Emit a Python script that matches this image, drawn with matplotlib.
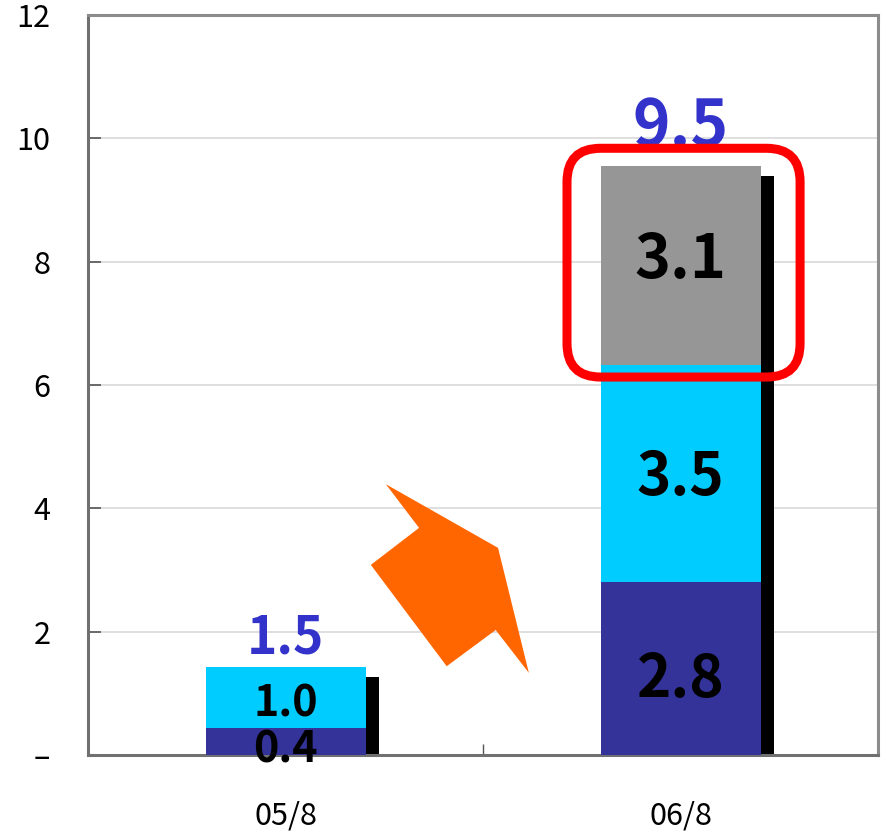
import matplotlib.pyplot as plt
from matplotlib.patches import FancyBboxPatch, Polygon

# --- data ---
periods = ['05/8', '06/8']
dark_vals = [0.44, 2.80]     # bottom segment (navy)
cyan_vals = [0.99, 3.52]     # middle segment (cyan)
grey_vals = [0.00, 3.23]     # top segment (grey, only in 06/8)
dark_labels = ['0.4', '2.8']
cyan_labels = ['1.0', '3.5']
grey_labels = ['', '3.1']
total_labels = ['1.5', '9.5']
y_ticks = [0, 2, 4, 6, 8, 10, 12]
y_tick_labels = ['\u2013', '2', '4', '6', '8', '10', '12']

# decorative orange arrow, in axes fraction
arrow_shape = [(0.377, 0.366), (0.419, 0.307), (0.358, 0.257), (0.454, 0.120),
               (0.516, 0.169), (0.558, 0.111), (0.519, 0.280)]

FONT = ['Noto Sans CJK JP', 'DejaVu Sans']
plt.rcParams['font.family'] = FONT

fig = plt.figure(figsize=(8.86, 8.38), dpi=100)
ax = fig.add_axes([0.0993, 0.099, 0.8918, 0.883])

px_per_unit = 0.883 * 838 / 12.0


def digit_half(fs):
    # half the height of a digit, in data units, for a font size in points
    return 0.5 * 0.73 * fs * 100 / 72 / px_per_unit


def put(xpos, ycenter, s, fs, color='black'):
    ax.text(xpos, ycenter - digit_half(fs), s, ha='center', va='baseline',
            fontsize=fs, fontweight='bold', color=color, zorder=5)


x = list(range(len(periods)))
width = 0.405
dx, dy = 0.033, 0.16

totals = [d + c + g for d, c, g in zip(dark_vals, cyan_vals, grey_vals)]
tops2 = [d + c for d, c in zip(dark_vals, cyan_vals)]

# black drop shadow behind the stacks
ax.bar([i + dx for i in x], [t - dy for t in totals], width=width,
       color='black', zorder=2)

ax.bar(x, dark_vals, width=width, color='#333399', zorder=3)
ax.bar(x, cyan_vals, width=width, bottom=dark_vals, color='#00CCFF', zorder=3)
ax.bar(x, grey_vals, width=width, bottom=tops2, color='#969696', zorder=3)

# segment labels
for i in x:
    small = totals[i] < 3
    fs_seg = 31 if small else 42
    put(i, dark_vals[i] / 2 - (0.09 if small else 0.12), dark_labels[i], fs_seg)
    put(i, dark_vals[i] + cyan_vals[i] / 2 - (0.05 if small else 0), cyan_labels[i], fs_seg)
    if grey_labels[i]:
        put(i, tops2[i] + grey_vals[i] / 2 + 0.17, grey_labels[i], 44)
    fs_tot = 37 if small else 46
    ax.text(i, totals[i] + (0.22 if small else 0.33), total_labels[i], ha='center',
            va='baseline', fontsize=fs_tot, fontweight='bold', color='#3333CC', zorder=5)

# red rounded highlight around the new (grey) segment
hx0 = x[1] - width / 2 - 0.085
hx1 = x[1] + width / 2 + 0.1
hy0 = tops2[1] - 0.19
hy1 = totals[1] + 0.29
aspect = (0.8918 * 886 / 2.0) / px_per_unit
box = FancyBboxPatch((hx0, hy0), hx1 - hx0, hy1 - hy0,
                     boxstyle='round,pad=0,rounding_size=0.085',
                     mutation_aspect=aspect, facecolor='none',
                     edgecolor='#FF0000', linewidth=6.5, zorder=6)
ax.add_patch(box)

ax.add_patch(Polygon(arrow_shape, closed=True, transform=ax.transAxes,
                     facecolor='#FF6600', edgecolor='none', zorder=4))

ax.set_xlim(-0.5, 1.5)
ax.set_ylim(0, 12)
ax.set_yticks(y_ticks)
ax.set_yticklabels(y_tick_labels)
ax.set_xticks(x)
ax.set_xticklabels(periods)
ax.set_xticks([-0.5, 0.5, 1.5], minor=True)

ax.yaxis.grid(True, color='#D9D9D9', linewidth=1.2, zorder=0)
ax.set_axisbelow(True)

ax.tick_params(axis='y', direction='in', length=9, width=1.2, color='#555555',
               pad=27, labelsize=22)
ax.tick_params(axis='x', which='major', length=0, pad=33, labelsize=22)
ax.tick_params(axis='x', which='minor', direction='in', length=8, width=1.0,
               color='#555555')

for side in ['left', 'bottom']:
    ax.spines[side].set_color('#707070')
    ax.spines[side].set_linewidth(2.2)
for side in ['top', 'right']:
    ax.spines[side].set_color('#8C8C8C')
    ax.spines[side].set_linewidth(2.2)

fig.savefig('out.png', dpi=100)
